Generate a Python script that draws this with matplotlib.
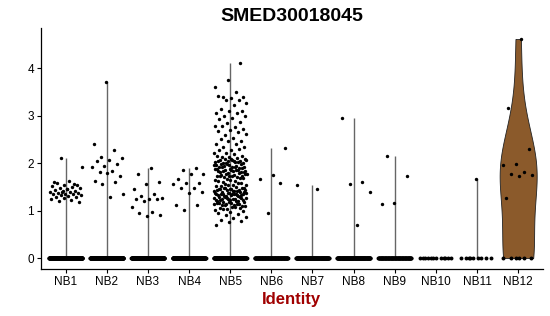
import numpy as np
import matplotlib
matplotlib.use("Agg")
import matplotlib.pyplot as plt

plt.rcParams['font.family'] = ['Liberation Sans', 'DejaVu Sans']

# Cluster names and expression values (non-zero cells)
groups = ['NB1', 'NB2', 'NB3', 'NB4', 'NB5', 'NB6', 'NB7', 'NB8', 'NB9', 'NB10', 'NB11', 'NB12']

nb1 = [2.11, 1.93, 1.62, 1.58, 1.55, 1.53, 1.52, 1.50, 1.48, 1.47, 1.45, 1.44, 1.42, 1.41,
       1.40, 1.40, 1.38, 1.37, 1.36, 1.35, 1.34, 1.33, 1.32, 1.30, 1.29, 1.28, 1.26, 1.24,
       1.22, 1.20, 1.18, 1.45, 1.60, 1.57, 1.39]
nb2 = [3.71, 2.40, 2.28, 2.14, 2.12, 2.06, 2.04, 1.99, 1.95, 1.93, 1.83, 1.81, 1.74, 1.80,
       1.63, 1.60, 1.56, 1.35, 1.29]
nb3 = [1.90, 1.77, 1.61, 1.56, 1.45, 1.35, 1.31, 1.26, 1.25, 1.25, 1.24, 1.21, 1.07, 0.98,
       0.94, 0.91, 0.89]
nb4 = [1.90, 1.85, 1.78, 1.77, 1.66, 1.59, 1.58, 1.56, 1.48, 1.47, 1.40, 1.37, 1.12, 1.12, 1.01]
nb5 = [4.12, 3.76, 3.61, 3.50, 3.39, 3.40, 3.38, 3.41, 3.34, 3.33, 3.26, 3.22, 3.14, 3.11,
       3.10, 3.06, 3.05, 3.00, 2.99, 2.95, 2.94, 2.86, 2.85, 2.78, 2.77, 2.79, 2.72, 2.71,
       2.67, 2.66, 2.60, 2.61, 2.53, 2.52, 2.46, 2.47, 2.41, 2.40, 2.35, 2.34, 2.28, 2.27,
       2.29, 2.21, 2.22, 2.20, 2.14, 2.15, 2.13, 2.16, 2.12,
       2.09, 2.08, 2.07, 2.06, 2.05, 2.04, 2.03, 2.02, 2.01, 2.00, 2.08, 2.05, 2.03, 2.01,
       2.06, 2.04, 1.99, 1.98, 1.97, 1.96, 1.95, 1.94, 1.93, 1.92, 1.91, 1.90, 1.98, 1.96,
       1.93, 1.91, 1.89, 1.88, 1.87, 1.86, 1.85, 1.84, 1.83, 1.82, 1.81, 1.80, 1.88, 1.85,
       1.83, 1.81, 1.86, 1.84, 1.79, 1.78, 1.77, 1.76, 1.75, 1.74, 1.73, 1.72, 1.71, 1.70,
       1.77, 1.74, 1.72, 1.69, 1.67, 1.65, 1.63, 1.61, 1.68, 1.64, 1.62, 1.59, 1.57, 1.55,
       1.53, 1.51, 1.58, 1.54, 1.52, 1.49, 1.48, 1.47, 1.46, 1.45, 1.44, 1.43, 1.42, 1.41,
       1.40, 1.48, 1.46, 1.44, 1.42, 1.47, 1.43, 1.41, 1.45, 1.39, 1.38, 1.37, 1.36, 1.35,
       1.34, 1.33, 1.32, 1.31, 1.30, 1.38, 1.36, 1.34, 1.32, 1.37, 1.35, 1.33, 1.31, 1.39,
       1.36, 1.29, 1.28, 1.27, 1.26, 1.25, 1.24, 1.23, 1.22, 1.21, 1.20, 1.28, 1.26, 1.24,
       1.22, 1.27, 1.25, 1.23, 1.21, 1.19, 1.18, 1.17, 1.16, 1.15, 1.14, 1.13, 1.12, 1.11,
       1.10, 1.18, 1.16, 1.14, 1.12, 1.09, 1.08, 1.06, 1.05, 1.03, 1.01, 1.07, 1.04, 0.99,
       0.97, 0.95, 0.93, 0.91, 0.86, 0.85, 0.81, 0.78, 0.77, 0.70]
nb6 = [2.32, 1.75, 1.66, 1.58, 0.94]
nb7 = [1.54, 1.46]
nb8 = [2.95, 1.61, 1.56, 1.39, 0.69]
nb9 = [2.16, 1.72, 1.17, 1.13]
nb10 = []
nb11 = [1.66]
nb12 = [4.62, 3.16, 2.30, 1.98, 1.96, 1.82, 1.78, 1.75, 1.74, 1.26]

# number of cells with zero expression in each cluster
zero_counts = [300, 300, 220, 220, 160, 110, 130, 130, 90, 12, 9, 6]

nonzero = [nb1, nb2, nb3, nb4, nb5, nb6, nb7, nb8, nb9, nb10, nb11, nb12]

JIT = 0.4
VIOLIN_BW = 0.8   # kernel bandwidth for the NB12 violin


def jitter(n, phase):
    # deterministic spread across the jitter width
    k = np.arange(n)
    return ((k * 0.61803398875 + phase) % 1.0 - 0.5) * 2 * JIT


fig = plt.figure(figsize=(5.5, 3.16), dpi=100)
ax = fig.add_axes([0.0745, 0.149, 0.9125, 0.762])

pos = np.arange(1, len(groups) + 1)

for i, (vals, nz) in enumerate(zip(nonzero, zero_counts)):
    x = pos[i]
    if groups[i] == 'NB12':
        data = np.array(vals + [0.0] * nz)
        bw = VIOLIN_BW / np.std(data, ddof=1)
        vp = ax.violinplot([data], positions=[x], widths=0.9, showextrema=False,
                           bw_method=bw, points=512)
        for b in vp['bodies']:
            b.set_facecolor('#8B5A2B')
            b.set_edgecolor('#222222')
            b.set_linewidth(0.6)
            b.set_alpha(1)
    elif len(vals) > 0:
        ax.vlines(x, 0, max(vals), color='#666666', lw=1.0, zorder=1)

    # zero cells
    if nz > 30:
        zx = x + np.linspace(-JIT, JIT, nz)
    else:
        zx = x + jitter(nz, 0.13 * i)
    ax.scatter(zx, np.zeros(nz), s=8, color='black', linewidths=0, zorder=3)
    # expressing cells
    if len(vals) > 0:
        ax.scatter(x + jitter(len(vals), 0.37 + 0.11 * i), vals, s=6, color='black',
                   linewidths=0, zorder=3)

ax.set_xlim(0.4, 12.6)
ax.set_ylim(-0.23, 4.85)
ax.set_xticks(pos)
ax.set_xticklabels(groups)
ax.set_yticks([0, 1, 2, 3, 4])
ax.tick_params(axis='both', labelsize=8.5, length=3, width=0.8, pad=2, color='black')
for s in ['top', 'right']:
    ax.spines[s].set_visible(False)
for s in ['left', 'bottom']:
    ax.spines[s].set_linewidth(0.9)

ax.set_title('SMED30018045', fontsize=14, fontweight='bold', pad=5)
ax.set_xlabel('Identity', fontsize=12, fontweight='bold', color='#A00000', labelpad=3)

fig.savefig('out.png', dpi=100)
